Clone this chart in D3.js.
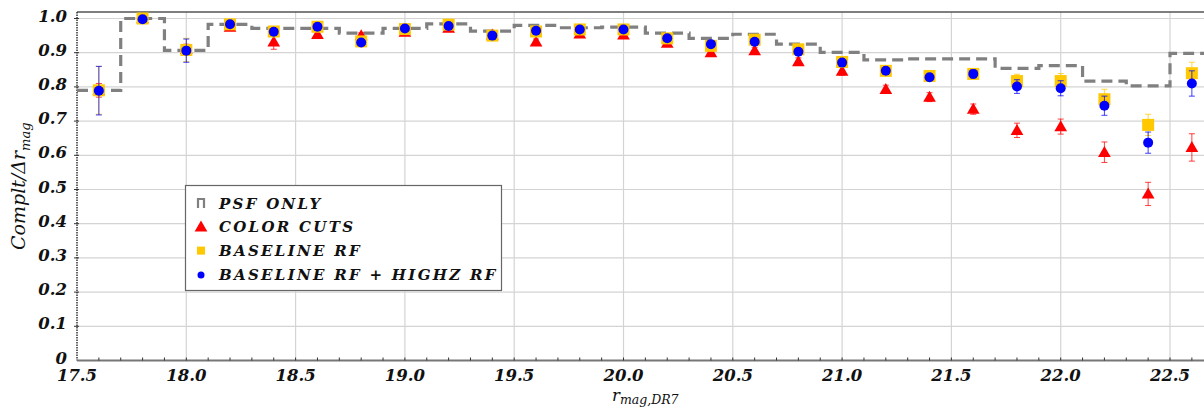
<!DOCTYPE html>
<html lang="en">
<head>
  <meta charset="UTF-8">
  <script src="https://d3js.org/d3.v7.min.js"></script>
  <title>Completeness vs r mag</title>
  <style>
    body { margin: 0; background: #fff; }
    svg { display: block; }
    .tick-label { font-family: "DejaVu Serif", serif; font-style: italic; font-weight: bold; font-size: 16.5px; fill: #111; }
    .legend-text { font-family: "DejaVu Serif", serif; font-style: italic; font-weight: bold; font-size: 15px; letter-spacing: 2.3px; fill: #111; }
    .axis-title { font-family: "DejaVu Serif", serif; font-style: italic; fill: #111; }
  </style>
</head>
<body>
  <svg id="chart" width="1204" height="408"></svg>
  <script>
    // bin centres (r mag)
    const bins = [17.6, 17.8, 18.0, 18.2, 18.4, 18.6, 18.8, 19.0, 19.2, 19.4, 19.6, 19.8, 20.0,
                  20.2, 20.4, 20.6, 20.8, 21.0, 21.2, 21.4, 21.6, 21.8, 22.0, 22.2, 22.4, 22.6];
    const binWidth = 0.2;

    const psfOnly = [0.79, 1.0, 0.907, 0.983, 0.971, 0.971, 0.957, 0.971, 0.984, 0.963, 0.980, 0.973, 0.975,
                     0.957, 0.942, 0.954, 0.925, 0.901, 0.879, 0.882, 0.882, 0.854, 0.862, 0.817, 0.803, 0.898];

    const colorCuts = [0.79, 1.0, 0.91, 0.975, 0.932, 0.954, 0.95, 0.96, 0.972, 0.952, 0.932, 0.955, 0.952,
                       0.928, 0.90, 0.906, 0.874, 0.846, 0.793, 0.77, 0.735, 0.673, 0.684, 0.609, 0.487, 0.623];
    const colorCutsErr = [0.02, 0.004, 0.015, 0.008, 0.022, 0.008, 0.008, 0.007, 0.007, 0.007, 0.008, 0.008, 0.008,
                          0.008, 0.009, 0.01, 0.011, 0.012, 0.012, 0.013, 0.015, 0.021, 0.022, 0.03, 0.034, 0.04];

    const baselineRF = [0.79, 1.0, 0.908, 0.983, 0.962, 0.976, 0.933, 0.969, 0.982, 0.950, 0.962, 0.968, 0.968,
                        0.942, 0.92, 0.938, 0.91, 0.873, 0.847, 0.832, 0.838, 0.817, 0.817, 0.764, 0.689, 0.840];
    const baselineRFErr = [0.07, 0.004, 0.034, 0.006, 0.006, 0.005, 0.007, 0.006, 0.005, 0.006, 0.005, 0.005, 0.005,
                           0.005, 0.006, 0.007, 0.008, 0.009, 0.01, 0.01, 0.012, 0.02, 0.022, 0.029, 0.031, 0.032];

    const highzRF = [0.789, 0.998, 0.906, 0.983, 0.961, 0.976, 0.93, 0.971, 0.978, 0.950, 0.964, 0.968, 0.968,
                     0.942, 0.925, 0.932, 0.903, 0.871, 0.847, 0.828, 0.838, 0.801, 0.796, 0.745, 0.637, 0.810];
    const highzRFErr = [0.071, 0.004, 0.034, 0.006, 0.006, 0.005, 0.008, 0.006, 0.005, 0.006, 0.005, 0.005, 0.005,
                        0.005, 0.006, 0.007, 0.008, 0.009, 0.01, 0.01, 0.012, 0.02, 0.022, 0.028, 0.031, 0.037];

    const xTicks = [17.5, 18.0, 18.5, 19.0, 19.5, 20.0, 20.5, 21.0, 21.5, 22.0, 22.5];
    const yTicks = [0, 0.1, 0.2, 0.3, 0.4, 0.5, 0.6, 0.7, 0.8, 0.9, 1.0];
    const legendLabels = ["PSF ONLY", "COLOR CUTS", "BASELINE RF", "BASELINE RF + HIGHZ RF"];

    const width = 1204, height = 408;
    const svg = d3.select("#chart");

    const x = d3.scaleLinear().domain([17.5, 22.5]).range([77, 1170]);
    const y = d3.scaleLinear().domain([0, 1]).range([360.5, 18.5]);
    const yTop = y(1.019);

    const RED = "#ff0000", GOLD = "#ffc800", BLUE = "#0000ff", GREY = "#808080";

    // grid
    svg.append("g").selectAll("line").data(yTicks.filter(d => d > 0)).join("line")
      .attr("x1", x(17.5)).attr("x2", width)
      .attr("y1", d => y(d)).attr("y2", d => y(d))
      .attr("stroke", "#d4d4d4").attr("stroke-width", 1.2);
    svg.append("g").selectAll("line").data(xTicks.filter(d => d > 17.5)).join("line")
      .attr("x1", d => x(d)).attr("x2", d => x(d))
      .attr("y1", yTop).attr("y2", y(0))
      .attr("stroke", "#d4d4d4").attr("stroke-width", 1.2);

    // frame
    svg.append("line").attr("x1", x(17.5)).attr("x2", width).attr("y1", yTop).attr("y2", yTop)
      .attr("stroke", "#555").attr("stroke-width", 1.5);
    svg.append("line").attr("x1", x(17.5)).attr("x2", x(17.5)).attr("y1", yTop).attr("y2", y(0))
      .attr("stroke", "#333").attr("stroke-width", 1.5).attr("stroke-dasharray", "1.5,1");
    svg.append("line").attr("x1", x(17.5)).attr("x2", width).attr("y1", y(0)).attr("y2", y(0))
      .attr("stroke", "#777").attr("stroke-width", 2);

    // minor ticks on x axis, ticks on y axis
    const minor = d3.range(176, 228).map(d => d / 10);
    svg.append("g").selectAll("line").data(minor).join("line")
      .attr("x1", d => x(d)).attr("x2", d => x(d))
      .attr("y1", y(0)).attr("y2", y(0) - 3)
      .attr("stroke", "#333").attr("stroke-width", 1);
    svg.append("g").selectAll("line").data(yTicks.filter(d => d > 0)).join("line")
      .attr("x1", x(17.5) - 3).attr("x2", x(17.5) + 2)
      .attr("y1", d => y(d)).attr("y2", d => y(d))
      .attr("stroke", "#333").attr("stroke-width", 1);

    // tick labels
    svg.append("g").selectAll("text").data(yTicks).join("text")
      .attr("class", "tick-label")
      .attr("x", 67).attr("y", d => y(d) + 3)
      .attr("text-anchor", "end")
      .text(d => d === 0 ? "0" : d.toFixed(1));
    svg.append("g").selectAll("text").data(xTicks).join("text")
      .attr("class", "tick-label")
      .attr("x", d => x(d)).attr("y", 380.5)
      .attr("text-anchor", "middle")
      .text(d => d.toFixed(1));

    // axis titles
    const xt = svg.append("text").attr("class", "axis-title")
      .attr("x", 612).attr("y", 400.5).style("font-size", "16.5px");
    xt.append("tspan").text("r");
    xt.append("tspan").attr("dy", 3.5).style("font-size", "12.5px").text("mag,DR7");

    const yt = svg.append("text").attr("class", "axis-title")
      .attr("transform", "translate(25,250) rotate(-90)")
      .style("font-size", "19px");
    yt.append("tspan").text("Complt/\u0394r");
    yt.append("tspan").attr("dy", 5).style("font-size", "13px").text("mag");

    // PSF only step histogram
    const stepPts = [];
    bins.forEach((b, i) => {
      stepPts.push([b - binWidth / 2, psfOnly[i]]);
      stepPts.push([b + binWidth / 2, psfOnly[i]]);
    });
    svg.append("path")
      .attr("d", d3.line().x(d => x(d[0])).y(d => y(d[1]))(stepPts))
      .attr("fill", "none").attr("stroke", GREY).attr("stroke-width", 3.2)
      .attr("stroke-dasharray", "11,6");

    function errorBars(vals, errs, color) {
      const g = svg.append("g").attr("stroke", color).attr("stroke-width", 1).attr("stroke-opacity", 0.75);
      bins.forEach((b, i) => {
        const cx = x(b), y1 = y(vals[i] + errs[i]), y2 = y(vals[i] - errs[i]);
        g.append("line").attr("x1", cx).attr("x2", cx).attr("y1", y1).attr("y2", y2);
        g.append("line").attr("x1", cx - 3).attr("x2", cx + 3).attr("y1", y1).attr("y2", y1);
        g.append("line").attr("x1", cx - 3).attr("x2", cx + 3).attr("y1", y2).attr("y2", y2);
      });
    }

    const tri = d3.symbol().type(d3.symbolTriangle).size(70);

    // color cuts
    errorBars(colorCuts, colorCutsErr, RED);
    svg.append("g").selectAll("path").data(bins).join("path")
      .attr("d", tri)
      .attr("transform", (d, i) => `translate(${x(d)},${y(colorCuts[i]) + 1})`)
      .attr("fill", RED);

    // baseline RF
    errorBars(baselineRF, baselineRFErr, GOLD);
    svg.append("g").selectAll("rect").data(bins).join("rect")
      .attr("x", d => x(d) - 6).attr("width", 12).attr("height", 12)
      .attr("y", (d, i) => y(baselineRF[i]) - 6)
      .attr("fill", GOLD);

    // baseline RF + highz RF
    errorBars(highzRF, highzRFErr, BLUE);
    svg.append("g").selectAll("circle").data(bins).join("circle")
      .attr("cx", d => x(d)).attr("cy", (d, i) => y(highzRF[i]))
      .attr("r", 5).attr("fill", BLUE);

    // legend
    const lg = svg.append("g");
    lg.append("rect").attr("x", 185.5).attr("y", 185.5).attr("width", 316).attr("height", 105)
      .attr("fill", "#fff").attr("stroke", "#666").attr("stroke-width", 1.2);
    const rowY = i => 203 + i * 23.8;
    const items = lg.selectAll("g").data(legendLabels).join("g")
      .attr("transform", (d, i) => `translate(201,${rowY(i)})`);
    items.append("text").attr("class", "legend-text").attr("x", 18).attr("y", 5.5).text(d => d);
    // symbols
    lg.append("path").attr("d", "M198,208 V199 H204 V208")
      .attr("transform", `translate(0,${rowY(0) - 203})`)
      .attr("fill", "none").attr("stroke", GREY).attr("stroke-width", 2.2);
    lg.append("path").attr("d", tri).attr("transform", `translate(201,${rowY(1) + 1})`).attr("fill", RED);
    lg.append("rect").attr("x", 197).attr("y", rowY(2) - 4).attr("width", 8).attr("height", 8).attr("fill", GOLD);
    lg.append("circle").attr("cx", 201).attr("cy", rowY(3) + 0.5).attr("r", 3.5).attr("fill", BLUE);
  </script>
</body>
</html>
